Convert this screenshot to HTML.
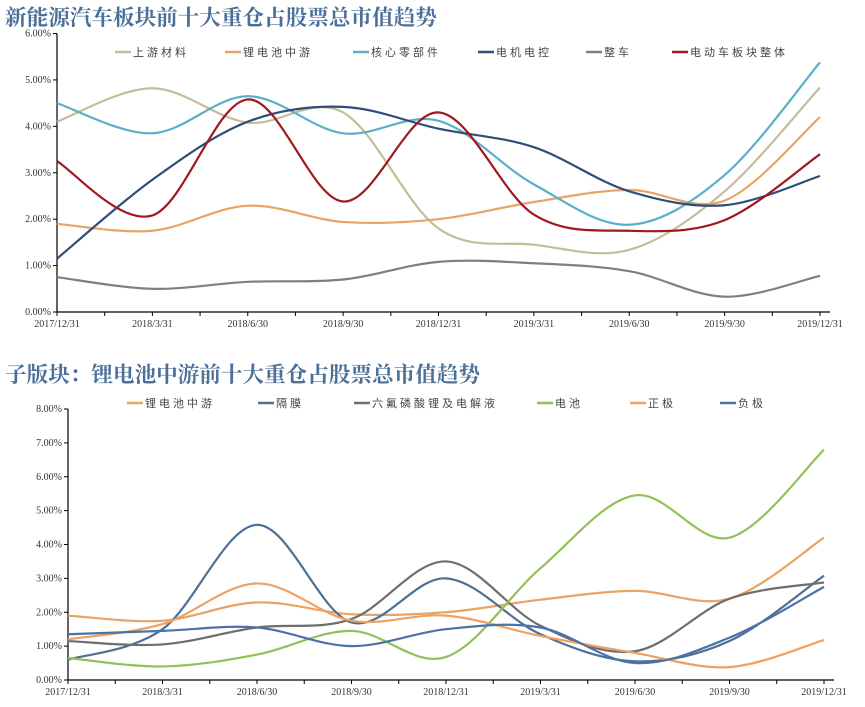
<!DOCTYPE html>
<html><head><meta charset="utf-8"><style>
body{margin:0;background:#fff;width:865px;height:707px;overflow:hidden}
svg{display:block}
.t{font-family:"Liberation Serif","Noto Serif CJK SC",serif;font-weight:bold;font-size:21.6px;fill:#4A6F98}
.ax{font-family:"Liberation Serif",serif;font-size:10px;fill:#333}
.lg{font-family:"Liberation Sans","Noto Sans CJK SC",sans-serif;font-size:11px;fill:#444;letter-spacing:3px}
</style></head><body>
<svg id="s" width="865" height="707">
<text class="t" x="5" y="25">新能源汽车板块前十大重仓占股票总市值趋势</text>
<text class="t" x="5" y="382">子版块：锂电池中游前十大重仓占股票总市值趋势</text>
</svg>
<script>
const categories=["2017/12/31","2018/3/31","2018/6/30","2018/9/30","2018/12/31","2019/3/31","2019/6/30","2019/9/30","2019/12/31"];
const topTicks=["0.00%","1.00%","2.00%","3.00%","4.00%","5.00%","6.00%"];
const botTicks=["0.00%","1.00%","2.00%","3.00%","4.00%","5.00%","6.00%","7.00%","8.00%"];
const topNames=["上游材料","锂电池中游","核心零部件","电机电控","整车","电动车板块整体"];
const topColors=["#C4BD97","#E8A464","#5AAFC8","#2E4E78","#7F7F7F","#A01820"];
const upstream=[4.1,4.82,4.08,4.3,1.8,1.45,1.34,2.6,4.84];
const liMid=[1.9,1.75,2.29,1.94,2.0,2.37,2.63,2.4,4.2];
const coreParts=[4.5,3.85,4.65,3.85,4.12,2.75,1.88,2.95,5.38];
const motor=[1.15,2.85,4.1,4.42,3.95,3.55,2.6,2.3,2.93];
const vehicle=[0.75,0.5,0.65,0.7,1.08,1.05,0.88,0.33,0.78];
const overall=[3.25,2.08,4.58,2.38,4.3,2.1,1.75,1.98,3.4];
const topSeries=[upstream,liMid,coreParts,motor,vehicle,overall];
const botNames=["锂电池中游","隔膜","六氟磷酸锂及电解液","电池","正极","负极"];
const botColors=["#E8A464","#4F6F93","#6E6E6E","#92C156","#F0A060","#4A73A8"];
const separator=[0.6,1.5,4.58,1.7,3.0,1.35,0.55,1.15,3.08];
const lipf6=[1.15,1.05,1.55,1.8,3.5,1.6,0.85,2.4,2.88];
const battery=[0.65,0.4,0.75,1.45,0.68,3.3,5.45,4.2,6.8];
const cathode=[1.2,1.65,2.85,1.75,1.9,1.3,0.8,0.38,1.18];
const anode=[1.35,1.45,1.55,1.0,1.5,1.55,0.5,1.25,2.75];
const botSeries=[liMid,separator,lipf6,battery,cathode,anode];

const svg=document.getElementById('s');const NS="http://www.w3.org/2000/svg";
function mk(t,a,txt){const e=document.createElementNS(NS,t);for(const k in a)e.setAttribute(k,a[k]);if(txt!=null)e.textContent=txt;svg.appendChild(e);return e;}
function path(pts){let d="M"+pts[0][0]+","+pts[0][1];for(let i=0;i<pts.length-1;i++){const p0=pts[Math.max(i-1,0)],p1=pts[i],p2=pts[i+1],p3=pts[Math.min(i+2,pts.length-1)];const t=6;d+=" C"+(p1[0]+(p2[0]-p0[0])/t)+","+(p1[1]+(p2[1]-p0[1])/t)+" "+(p2[0]-(p3[0]-p1[0])/t)+","+(p2[1]-(p3[1]-p1[1])/t)+" "+p2[0]+","+p2[1];}return d;}
function chart(cfg,prefix){
 const {x0,x1,y0,y1,ymax,ticks,names,colors,series,legY,legX}=cfg;
 const X=i=>x0+(x1-x0)*i/(categories.length-1);
 const Y=v=>y0-(y0-y1)*v/ymax;
 let e=mk('line',{x1:x0,y1:y1,x2:x0,y2:y0,stroke:'#000','stroke-width':1.2});
 
 e=mk('line',{x1:x0,y1:y0,x2:x1+10,y2:y0,stroke:'#000','stroke-width':1.2});
 
 ticks.forEach((t,i)=>{const y=Y(ymax*i/(ticks.length-1));
  mk('line',{x1:x0-4,y1:y,x2:x0,y2:y,stroke:'#000'});
  e=mk('text',{class:'ax',x:x0-6,y:y+3,'text-anchor':'end'},t);
  });
 for(let i=0;i<=16;i++){const x=x0+(x1-x0)*i/16;mk('line',{x1:x,y1:y0,x2:x,y2:y0+4,stroke:'#000'});}
 categories.forEach((c,i)=>{e=mk('text',{class:'ax',x:X(i),y:y0+15,'text-anchor':'middle'},c);
  });
 series.forEach((s,k)=>{e=mk('path',{d:path(s.map((v,i)=>[X(i),Y(v)])),fill:'none',stroke:colors[k],'stroke-width':2.2});
  });
 names.forEach((n,k)=>{e=mk('line',{x1:legX[k],y1:legY,x2:legX[k]+16,y2:legY,stroke:colors[k],'stroke-width':2.5});
  
  e=mk('text',{class:'lg',x:legX[k]+18,y:legY+4},n);
  });
}
chart({x0:57,x1:820,y0:312,y1:33.5,ymax:6,ticks:topTicks,names:topNames,colors:topColors,series:topSeries,legY:52,legX:[115,225,353,478,586,672]},'top');
chart({x0:68,x1:824,y0:680,y1:409,ymax:8,ticks:botTicks,names:botNames,colors:botColors,series:botSeries,legY:403,legX:[127,258,354,537,630,720]},'bottom');
</script>
</body></html>
